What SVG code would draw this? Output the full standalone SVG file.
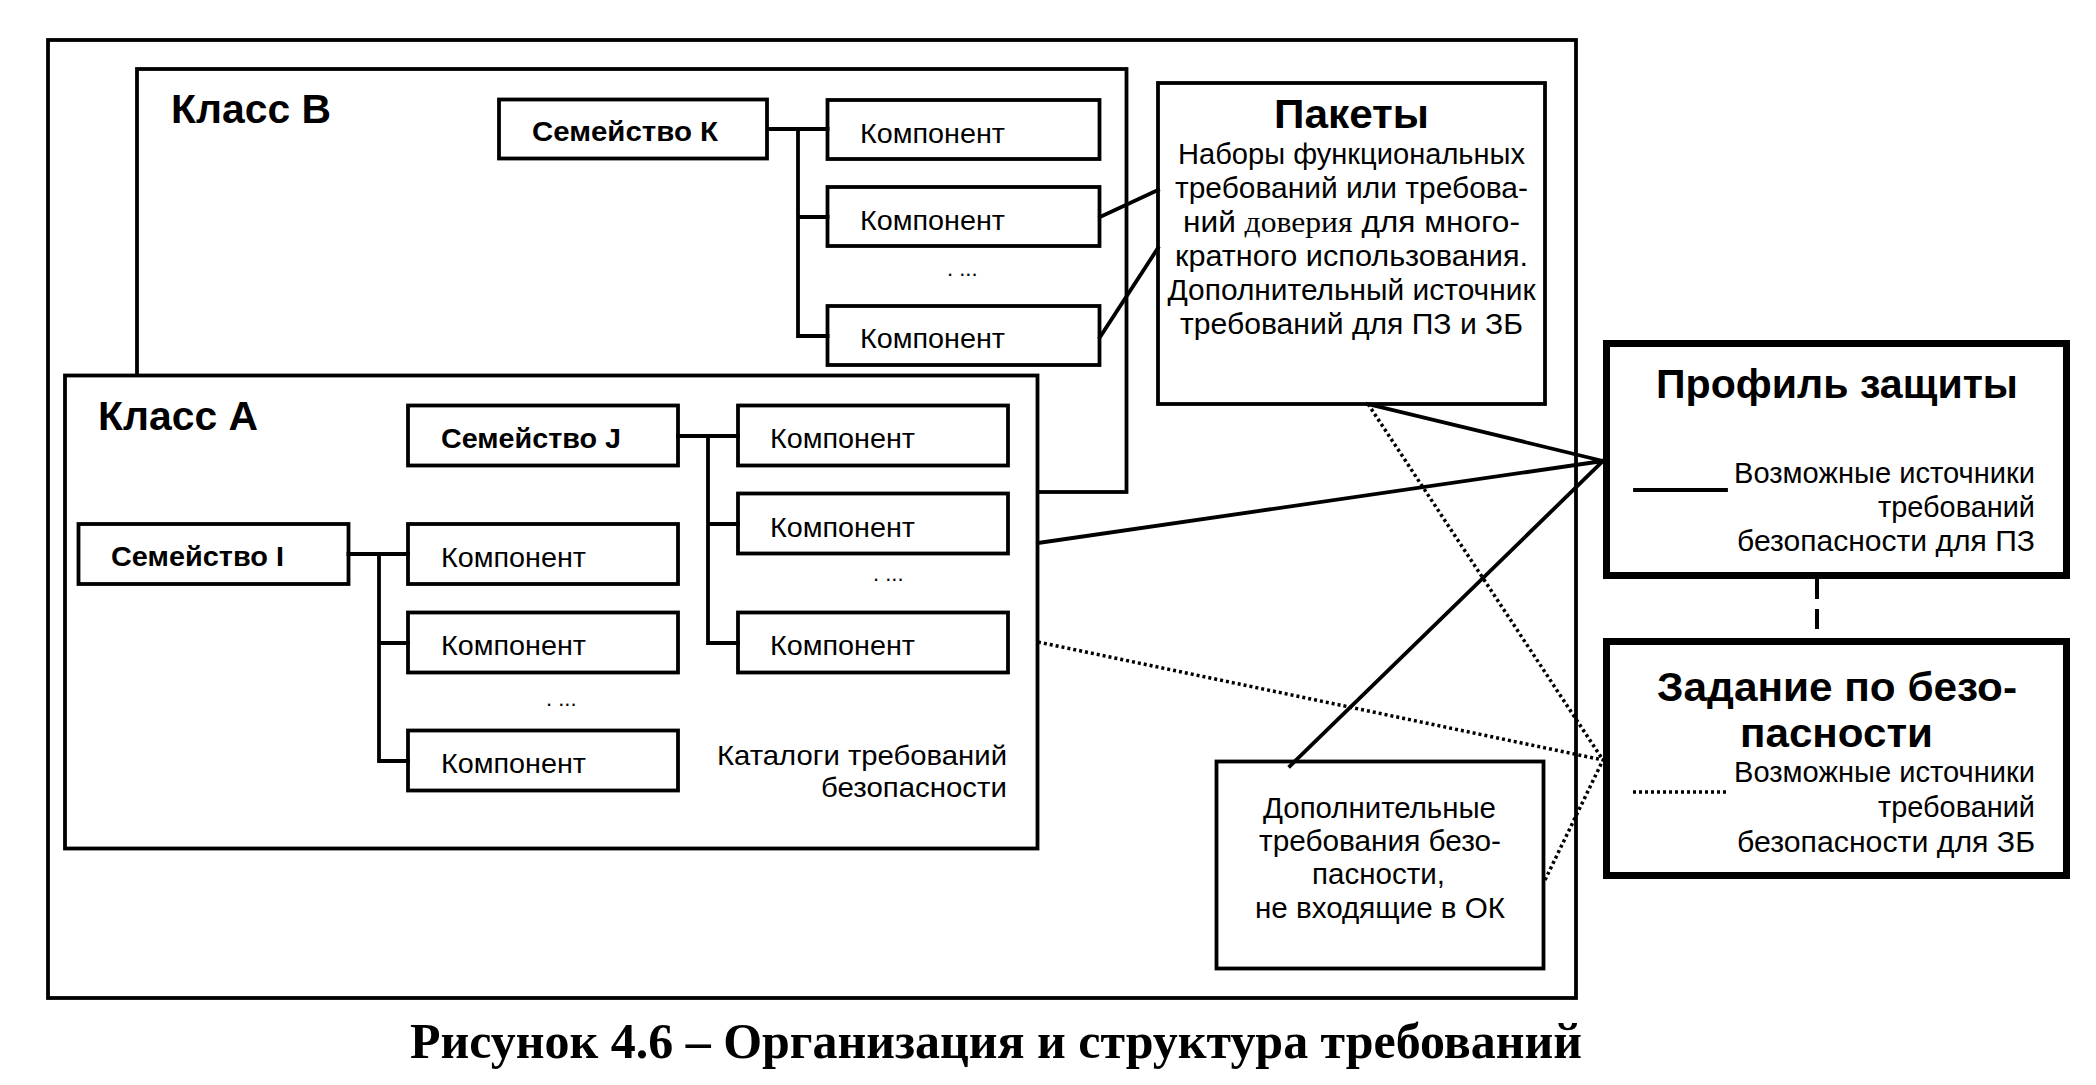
<svg xmlns="http://www.w3.org/2000/svg" width="2096" height="1085" viewBox="0 0 2096 1085">
<style>
.box{fill:#fff;stroke:#000;stroke-width:3.8}
.frame{fill:none;stroke:#000;stroke-width:3.8}
.thick{fill:#fff;stroke:#000;stroke-width:7}
.ln{fill:none;stroke:#000;stroke-width:3.8;stroke-linecap:square}
.dot{fill:none;stroke:#000;stroke-width:3.5;stroke-dasharray:3 3}
.dash{fill:none;stroke:#000;stroke-width:4;stroke-dasharray:20 10}
text{font-family:"Liberation Sans",Arial,sans-serif;fill:#000}
.h1{font-size:41px;font-weight:bold}
.h2{font-size:41px;font-weight:bold}
.fam{font-size:28px;font-weight:bold}
.cmp{font-size:28px}
.body{font-size:29px}
.dots{font-size:22px}
.cap{font-family:"Liberation Serif","Times New Roman",serif;font-size:51px;font-weight:bold}
</style>
<rect width="2096" height="1085" fill="#fff"/>
<g id="frame"><rect class="frame" x="48" y="40" width="1528" height="958"/></g>
<g id="class-b">
<rect class="box" x="137" y="69" width="989.5" height="423"/>
<text class="h1" x="171" y="123" textLength="160" lengthAdjust="spacingAndGlyphs">Класс В</text>
</g>
<g id="class-a">
<rect class="box" x="65" y="375.5" width="972.5" height="473"/>
<text class="h1" x="98" y="430" textLength="160" lengthAdjust="spacingAndGlyphs">Класс А</text>
<text class="cmp" x="717" y="765" textLength="290" lengthAdjust="spacingAndGlyphs">Каталоги требований</text>
<text class="cmp" x="821" y="797" textLength="186" lengthAdjust="spacingAndGlyphs">безопасности</text>
</g>
<g id="family-k"><rect class="box" x="499" y="99.5" width="268" height="59"/><text class="fam" x="532" y="141" textLength="186" lengthAdjust="spacingAndGlyphs">Семейство К</text></g>
<g id="comp-k1"><rect class="box" x="827.5" y="100" width="272" height="59"/><text class="cmp" x="860" y="143" textLength="145" lengthAdjust="spacingAndGlyphs">Компонент</text></g>
<g id="comp-k2"><rect class="box" x="827.5" y="187" width="272" height="59"/><text class="cmp" x="860" y="230" textLength="145" lengthAdjust="spacingAndGlyphs">Компонент</text></g>
<text class="dots" x="947" y="276">. ...</text>
<g id="comp-k3"><rect class="box" x="827.5" y="306" width="272" height="59"/><text class="cmp" x="860" y="348" textLength="145" lengthAdjust="spacingAndGlyphs">Компонент</text></g>
<g id="family-j"><rect class="box" x="408" y="405.5" width="270" height="60"/><text class="fam" x="441" y="448" textLength="180" lengthAdjust="spacingAndGlyphs">Семейство J</text></g>
<g id="comp-j1"><rect class="box" x="738" y="405.5" width="270" height="60"/><text class="cmp" x="770" y="448" textLength="145" lengthAdjust="spacingAndGlyphs">Компонент</text></g>
<g id="comp-j2"><rect class="box" x="738" y="493.5" width="270" height="60"/><text class="cmp" x="770" y="537" textLength="145" lengthAdjust="spacingAndGlyphs">Компонент</text></g>
<text class="dots" x="873" y="581">. ...</text>
<g id="comp-j3"><rect class="box" x="738" y="612.5" width="270" height="60"/><text class="cmp" x="770" y="655" textLength="145" lengthAdjust="spacingAndGlyphs">Компонент</text></g>
<g id="family-i"><rect class="box" x="78.5" y="524" width="270" height="60"/><text class="fam" x="111" y="566" textLength="173" lengthAdjust="spacingAndGlyphs">Семейство I</text></g>
<g id="comp-i1"><rect class="box" x="408" y="524" width="270" height="60"/><text class="cmp" x="441" y="567" textLength="145" lengthAdjust="spacingAndGlyphs">Компонент</text></g>
<g id="comp-i2"><rect class="box" x="408" y="612.5" width="270" height="60"/><text class="cmp" x="441" y="655" textLength="145" lengthAdjust="spacingAndGlyphs">Компонент</text></g>
<text class="dots" x="546" y="706">. ...</text>
<g id="comp-i3"><rect class="box" x="408" y="730.5" width="270" height="60"/><text class="cmp" x="441" y="773" textLength="145" lengthAdjust="spacingAndGlyphs">Компонент</text></g>
<g id="packages">
<rect class="box" x="1158" y="83" width="387" height="321"/>
<text class="h2" x="1274" y="128" textLength="155" lengthAdjust="spacingAndGlyphs">Пакеты</text>
<text class="body" x="1178" y="164" textLength="347" lengthAdjust="spacingAndGlyphs">Наборы функциональных</text>
<text class="body" x="1175" y="198" textLength="353" lengthAdjust="spacingAndGlyphs">требований или требова-</text>
<text class="body" x="1183" y="232" textLength="337" lengthAdjust="spacingAndGlyphs">ний <tspan font-family="'Liberation Serif','Times New Roman',serif">доверия</tspan> для много-</text>
<text class="body" x="1175" y="266" textLength="353" lengthAdjust="spacingAndGlyphs">кратного использования.</text>
<text class="body" x="1167.5" y="300" textLength="368" lengthAdjust="spacingAndGlyphs">Дополнительный источник</text>
<text class="body" x="1180" y="334" textLength="343" lengthAdjust="spacingAndGlyphs">требований для ПЗ и ЗБ</text>
</g>
<g id="extra">
<rect class="box" x="1216.5" y="761.5" width="327" height="207"/>
<text class="body" x="1263" y="818" textLength="233" lengthAdjust="spacingAndGlyphs">Дополнительные</text>
<text class="body" x="1259" y="851" textLength="242" lengthAdjust="spacingAndGlyphs">требования безо-</text>
<text class="body" x="1312" y="884" textLength="133" lengthAdjust="spacingAndGlyphs">пасности,</text>
<text class="body" x="1255" y="918" textLength="250" lengthAdjust="spacingAndGlyphs">не входящие в ОК</text>
</g>
<g id="profile">
<rect class="thick" x="1606.5" y="343.5" width="460" height="232"/>
<text class="h2" x="1656" y="398" textLength="362" lengthAdjust="spacingAndGlyphs">Профиль защиты</text>
<path class="ln" d="M1635 490H1726" stroke-width="4"/>
<text class="body" x="1734" y="483" textLength="301" lengthAdjust="spacingAndGlyphs">Возможные источники</text>
<text class="body" x="1878" y="517" textLength="157" lengthAdjust="spacingAndGlyphs">требований</text>
<text class="body" x="1737" y="551" textLength="298" lengthAdjust="spacingAndGlyphs">безопасности для ПЗ</text>
</g>
<g id="target">
<rect class="thick" x="1606.5" y="641.5" width="460" height="234"/>
<text class="h2" x="1657" y="701" textLength="360" lengthAdjust="spacingAndGlyphs">Задание по безо-</text>
<text class="h2" x="1740" y="747" textLength="193" lengthAdjust="spacingAndGlyphs">пасности</text>
<path class="dot" d="M1633 792H1726"/>
<text class="body" x="1734" y="782" textLength="301" lengthAdjust="spacingAndGlyphs">Возможные источники</text>
<text class="body" x="1878" y="817" textLength="157" lengthAdjust="spacingAndGlyphs">требований</text>
<text class="body" x="1737" y="852" textLength="298" lengthAdjust="spacingAndGlyphs">безопасности для ЗБ</text>
</g>
<g id="connectors">
<path class="ln" d="M769 129H827.5M798 129V336M798 217H827.5M798 336H827.5"/>
<path class="ln" d="M678 436H738M708 436V643M708 524H738M708 643H738"/>
<path class="ln" d="M348.5 554H408M379 554V761M379 643H408M379 761H408"/>
<path class="ln" d="M1100 217L1158 190M1100 337L1158 248"/>
<path class="ln" d="M1368 404L1603 461M1038 543L1603 461M1290 766L1603 461"/>
<path class="dot" d="M1368 404L1603 760M1038 642L1603 760M1545 880L1603 760"/>
<path class="dash" d="M1817 579V641"/>
</g>
<text class="cap" x="410" y="1058" textLength="1172" lengthAdjust="spacingAndGlyphs">Рисунок 4.6 – Организация и структура требований</text>
</svg>
